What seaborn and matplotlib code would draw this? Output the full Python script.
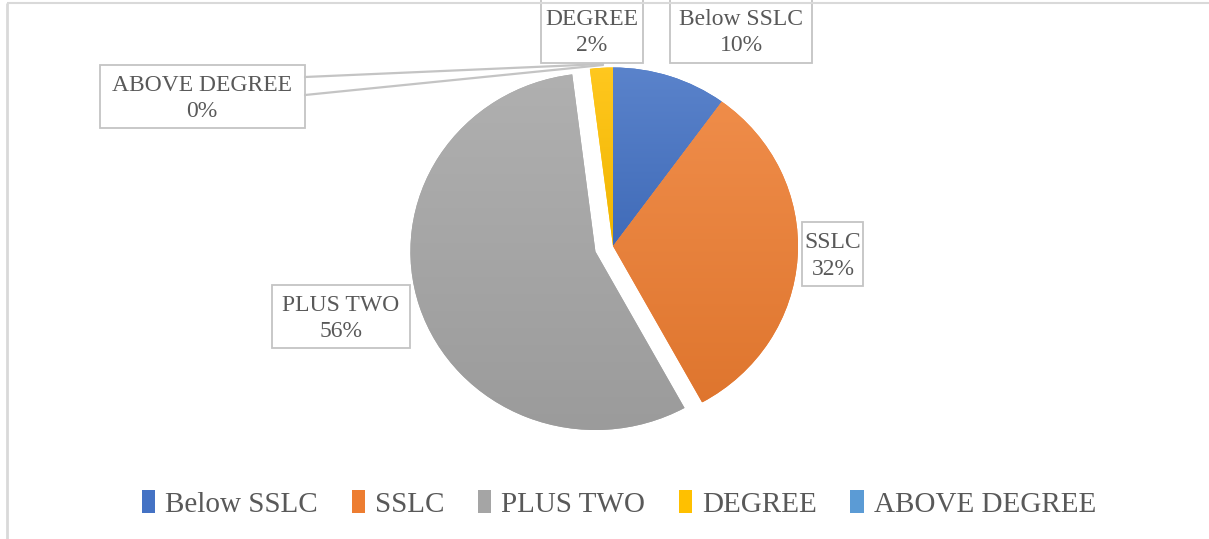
import numpy as np
import matplotlib
matplotlib.use("Agg")
import matplotlib.pyplot as plt
import matplotlib.colors as mcolors
from matplotlib.patches import Rectangle, Patch
import seaborn as sns

# ---- data ----
categories = ["Below SSLC", "SSLC", "PLUS TWO", "DEGREE", "ABOVE DEGREE"]
values = [10, 32, 56, 2, 0]
colors = ["#4472C4", "#ED7D31", "#A5A5A5", "#FFC000", "#5B9BD5"]
explode = [0, 0, 0.1, 0, 0]

# label layout (pixel coords, y downward): text centre x, box x0, y0, x1, y1
label_boxes = {
    "Below SSLC":   (741, 670, -2, 812, 63),
    "SSLC":         (833, 802, 222, 863, 286),
    "PLUS TWO":     (341, 272, 285, 410, 348),
    "DEGREE":       (592, 541, -2, 643, 63),
    "ABOVE DEGREE": (202, 100, 65, 305, 128),
}

sns.set_theme(style="white")
plt.rcParams['font.family'] = ['Liberation Serif', 'DejaVu Serif']
TXT = "#595959"
EDGE = "#C4C4C4"

W, H = 1209, 539
fig = plt.figure(figsize=(W / 100, H / 100), dpi=100)

# pie axes (slightly wider than tall, as in the reference)
cx, cy, rx, ry = 613, 246, 185, 178.5
lim = 1.2
axp = fig.add_axes([(cx - lim * rx) / W, (H - cy - lim * ry) / H,
                    2 * lim * rx / W, 2 * lim * ry / H])
wedges, _ = axp.pie(values, colors=colors, explode=explode, startangle=90,
                    counterclock=False, radius=1,
                    wedgeprops=dict(linewidth=0))


def mix(c, other, t):
    a = np.array(mcolors.to_rgb(c))
    b = np.array(mcolors.to_rgb(other))
    return a * (1 - t) + b * t


for w, c, v in zip(wedges, colors, values):
    if v <= 0:
        continue
    ext = w.get_path().get_extents()
    top = mix(c, "white", 0.12)
    bot = mix(c, "black", 0.06)
    n = 256
    t = np.linspace(0, 1, n)[:, None]
    grad = (top[None, :] * (1 - t) + bot[None, :] * t)[:, None, :]
    im = axp.imshow(grad, extent=[ext.x0, ext.x1, ext.y0, ext.y1],
                    origin="upper", aspect="auto", interpolation="bilinear",
                    zorder=w.get_zorder() + 0.1)
    im.set_clip_path(w)

axp.set_xlim(-lim, lim)
axp.set_ylim(-lim, lim)
axp.set_aspect("auto")
axp.axis("off")

# overlay axes in pixel coordinates
ax = fig.add_axes([0, 0, 1, 1], zorder=5)
ax.set_xlim(0, W)
ax.set_ylim(H, 0)
ax.axis("off")
ax.patch.set_alpha(0)

# chart border (top and left visible)
ax.plot([7, W], [3, 3], color="#D9D9D9", lw=1.5, solid_capstyle="butt")
ax.plot([7, 7], [3, H], color="#D9D9D9", lw=2.0, solid_capstyle="butt")

total = sum(values)
for cat, v in zip(categories, values):
    tx, x0, y0, x1, y1 = label_boxes[cat]
    ax.add_patch(Rectangle((x0, y0), x1 - x0, y1 - y0, facecolor="white",
                           edgecolor=EDGE, lw=1.3))
    ax.text(tx, (y0 + y1) / 2 + 2, f"{cat}\n{v / total * 100:.0f}%",
            ha="center", va="center", fontsize=17, color=TXT,
            linespacing=1.35)

# callout pointer for ABOVE DEGREE
ax.plot([305, 603], [77, 64], color=EDGE, lw=1.6)
ax.plot([305, 603], [95, 65], color=EDGE, lw=1.6)

# legend
handles = [Patch(facecolor=c, edgecolor="none") for c in colors]
fig.legend(handles, categories, loc="center",
           bbox_to_anchor=(619 / W, 1 - 504 / H), ncol=5, frameon=False,
           fontsize=21, handlelength=0.45, handleheight=0.8,
           handletextpad=0.35, columnspacing=1.15, labelcolor=TXT)

fig.savefig("out.png", dpi=100)
